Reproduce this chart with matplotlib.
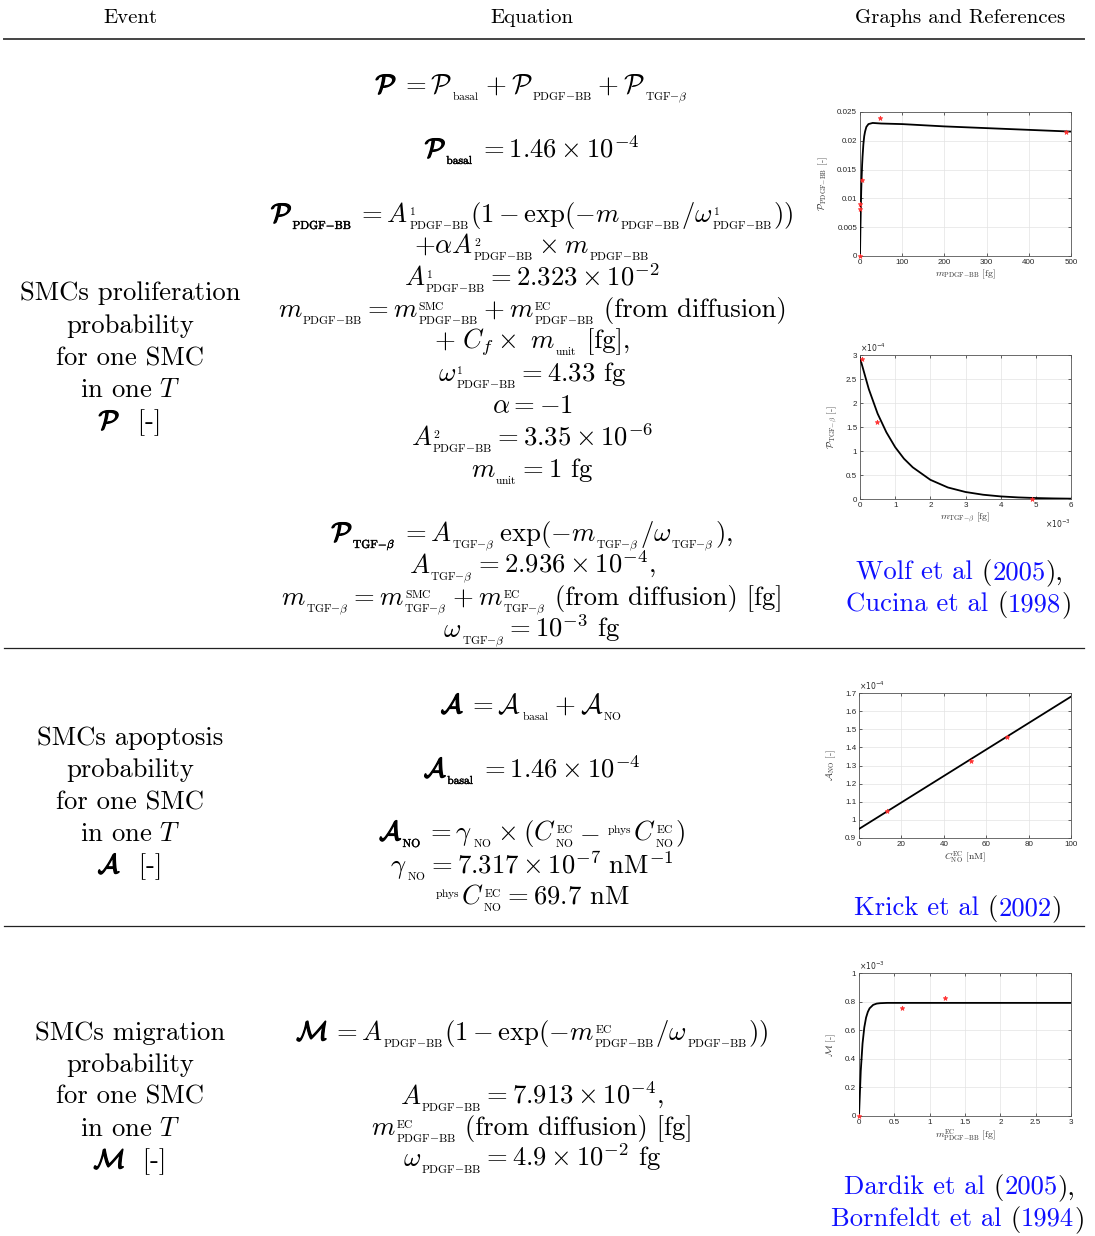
import re
import matplotlib
matplotlib.use("Agg")
import matplotlib.pyplot as plt
import matplotlib.patheffects as pe
from matplotlib.lines import Line2D
from matplotlib.ticker import FuncFormatter

plt.rcParams.update({
    "mathtext.fontset": "cm",
    "font.family": "serif",
    "font.serif": ["cmr10"],
    "axes.formatter.use_mathtext": True,
})

# ---------------- data ----------------
# Plot 1: P_PDGF-BB vs m_PDGF-BB
pdgf_curve_x = [0, 1, 2, 3, 4, 5, 6, 8, 10, 12, 15, 20, 25, 30, 50, 100, 200, 300, 400, 500]
pdgf_curve_y = [0, 0.0048, 0.0086, 0.0116, 0.0139, 0.0158, 0.0172, 0.0194, 0.0208, 0.0216,
                0.0224, 0.0229, 0.0230, 0.0231, 0.0230, 0.0229, 0.0225, 0.0222, 0.0219, 0.0216]
pdgf_pts_x = [0, 0, 0, 5, 48, 487]
pdgf_pts_y = [0, 0.0082, 0.0090, 0.0132, 0.0240, 0.0215]

# Plot 2: P_TGF-beta vs m_TGF-beta
tgf_curve_x = [0, 0.25e-3, 0.5e-3, 0.75e-3, 1e-3, 1.25e-3, 1.5e-3, 2e-3, 2.5e-3, 3e-3,
               3.5e-3, 4e-3, 4.5e-3, 5e-3, 5.5e-3, 6e-3]
tgf_curve_y = [2.94e-4, 2.29e-4, 1.78e-4, 1.39e-4, 1.08e-4, 0.84e-4, 0.66e-4, 0.40e-4,
               0.24e-4, 0.146e-4, 0.089e-4, 0.054e-4, 0.033e-4, 0.020e-4, 0.012e-4, 0.007e-4]
tgf_pts_x = [0.05e-3, 0.48e-3, 4.9e-3]
tgf_pts_y = [2.92e-4, 1.60e-4, 0.0]

# Plot 3: A_NO vs C_NO^EC
no_curve_x = [0, 100]
no_curve_y = [0.95e-4, 1.68e-4]
no_pts_x = [13, 53, 69.7]
no_pts_y = [1.05e-4, 1.325e-4, 1.46e-4]

# Plot 4: M vs m_PDGF-BB^EC
mig_curve_x = [0, 0.025, 0.05, 0.075, 0.1, 0.125, 0.15, 0.2, 0.25, 0.3, 0.4, 1.0, 2.0, 3.0]
mig_curve_y = [0, 0.316e-3, 0.506e-3, 0.620e-3, 0.688e-3, 0.728e-3, 0.753e-3, 0.777e-3,
               0.786e-3, 0.789e-3, 0.791e-3, 0.791e-3, 0.791e-3, 0.791e-3]
mig_pts_x = [0, 0.61, 1.22]
mig_pts_y = [0, 0.757e-3, 0.826e-3]

headers = ["Event", "Equation", "Graphs and References"]

# Markup: "_[..]" / "^[..]" are small (small-caps style) indices, "~" a small gap;
# chunks are (markup, style) with style 'b' (bold symbol), 'n' (normal) or 'blue'.
event_rows = [
    [[("SMCs proliferation", "n")], [("probability", "n")], [("for one SMC", "n")],
     [(r"in one $T$", "n")], [(r"$\mathcal{P}$", "b"), ("  [-]", "n")]],
    [[("SMCs apoptosis", "n")], [("probability", "n")], [("for one SMC", "n")],
     [(r"in one $T$", "n")], [(r"$\mathcal{A}$", "b"), ("  [-]", "n")]],
    [[("SMCs migration", "n")], [("probability", "n")], [("for one SMC", "n")],
     [(r"in one $T$", "n")], [(r"$\mathcal{M}$", "b"), ("  [-]", "n")]],
]

PB = "_[PDGF-BB]"
TG = r"[\mathrm{TGF{-}}\beta]"
T = "_" + TG

eq_row1 = [
    [(r"$\mathcal{P}$", "b"),
     (r"$\,=\mathcal{P}$_[basal]${}+\mathcal{P}$" + PB + r"${}+\mathcal{P}$" + T, "n")],
    [(r"$\mathcal{P}$_[basal]", "b"), (r"$\,= 1.46\times10^{-4}$", "n")],
    [(r"$\mathcal{P}$" + PB, "b"),
     (r"$\,= A$^[1]" + PB + r"$(1-\exp(-m$" + PB + r"$/\omega$^[1]" + PB + r"$))$", "n")],
    [(r"$+\alpha A$^[2]" + PB + r"${}\times m$" + PB, "n")],
    [(r"$A$^[1]" + PB + r"$= 2.323\times10^{-2}$", "n")],
    [(r"$m$" + PB + r"$= m$^[SMC]" + PB + r"${}+m$^[EC]" + PB + " (from diffusion)", "n")],
    [(r"$+\ C_f\times\ m$_[unit] [fg],", "n")],
    [(r"$\omega$^[1]" + PB + r"$= 4.33$ fg", "n")],
    [(r"$\alpha = -1$", "n")],
    [(r"$A$^[2]" + PB + r"$= 3.35\times10^{-6}$", "n")],
    [(r"$m$_[unit]$= 1$ fg", "n")],
    [(r"$\mathcal{P}$" + T, "b"),
     (r"$\,= A$" + T + r"$\,\exp(-m$" + T + r"$/\omega$" + T + r"$)$,", "n")],
    [(r"$A$" + T + r"$= 2.936\times10^{-4}$,", "n")],
    [(r"$m$" + T + r"$= m$^[SMC]" + T + r"${}+m$^[EC]" + T + " (from diffusion) [fg]", "n")],
    [(r"$\omega$" + T + r"$= 10^{-3}$ fg", "n")],
]
eq_row2 = [
    [(r"$\mathcal{A}$", "b"), (r"$\,= \mathcal{A}$_[basal]${}+\mathcal{A}$_[NO]", "n")],
    [(r"$\mathcal{A}$_[basal]", "b"), (r"$\,= 1.46\times10^{-4}$", "n")],
    [(r"$\mathcal{A}$_[NO]", "b"),
     (r"$\,= \gamma$_[NO]${}\times(C$^[EC]_[NO]${}-$~^[phys]$C$^[EC]_[NO]$)$", "n")],
    [(r"$\gamma$_[NO]$= 7.317\times10^{-7}\ \mathrm{nM}^{-1}$", "n")],
    [(r"^[phys]$C$^[EC]_[NO]$= 69.7$ nM", "n")],
]
eq_row3 = [
    [(r"$\mathcal{M}$", "b"),
     (r"$\,= A$" + PB + r"$(1-\exp(-m$^[EC]" + PB + r"$/\omega$" + PB + r"$))$", "n")],
    [(r"$A$" + PB + r"$= 7.913\times10^{-4}$,", "n")],
    [(r"$m$^[EC]" + PB + " (from diffusion) [fg]", "n")],
    [(r"$\omega$" + PB + r"$= 4.9\times10^{-2}$ fg", "n")],
]

references = [
    [("Wolf et al", "blue"), (" (", "n"), ("2005", "blue"), ("),", "n")],
    [("Cucina et al", "blue"), (" (", "n"), ("1998", "blue"), (")", "n")],
    [("Krick et al", "blue"), (" (", "n"), ("2002", "blue"), (")", "n")],
    [("Dardik et al", "blue"), (" (", "n"), ("2005", "blue"), ("),", "n")],
    [("Bornfeldt et al", "blue"), (" (", "n"), ("1994", "blue"), (")", "n")],
]

# ---------------- layout ----------------
W, H = 1095, 1236
fig = plt.figure(figsize=(W / 100, H / 100), dpi=100)
renderer = fig.canvas.get_renderer()


def fx(x):
    return x / W


def fy(y):
    return 1 - y / H


BODY = 19.2
SCRIPT = 8.3
SUB_DY = 7.0   # px below baseline
SUP_DY = -7.0  # px above baseline
GAP = 6.0
BLUE = "#1010ff"
BOLD = [pe.withStroke(linewidth=0.9, foreground="k")]
BOLD_SMALL = [pe.withStroke(linewidth=0.3, foreground="k")]
SCRIPT_RE = re.compile(r"((?:[_^]\[[^\]]*\])+)")


def script_math(c):
    if "\\" in c:
        return "$" + c + "$"
    return r"$\mathrm{%s}$" % c.replace("-", "{-}")


def _mk(s, size, color, effects):
    t = fig.text(0, 0, s, color=color, ha="left", va="baseline", fontsize=size)
    if effects:
        t.set_path_effects(effects)
    return t, t.get_window_extent(renderer).width


def put_line(chunks, cx, baseline, fs=BODY):
    placed = []
    x = 0.0
    for markup, style in chunks:
        color = BLUE if style == "blue" else "k"
        eff = BOLD if style == "b" else None
        eff_s = BOLD_SMALL if style == "b" else None
        for i, part in enumerate(SCRIPT_RE.split(markup)):
            if i % 2 == 0:
                for j, seg in enumerate(part.split("~")):
                    if j > 0:
                        x += GAP
                    if seg:
                        t, w = _mk(seg, fs, color, eff)
                        placed.append((t, x, 0.0))
                        x += w
            else:
                widths = []
                sup = re.search(r"\^\[([^\]]*)\]", part)
                sub = re.search(r"_\[([^\]]*)\]", part)
                if sup:
                    t, w = _mk(script_math(sup.group(1)), SCRIPT, color, eff_s)
                    placed.append((t, x + 0.5, SUP_DY))
                    widths.append(w + 0.5)
                if sub:
                    t, w = _mk(script_math(sub.group(1)), SCRIPT, color, eff_s)
                    placed.append((t, x, SUB_DY))
                    widths.append(w)
                x += max(widths) + 1.0
    x0 = cx - x / 2
    for t, dx, dy in placed:
        t.set_position((fx(x0 + dx), fy(baseline + dy)))


# header
for txt, cx in zip(headers, [130, 532, 960]):
    fig.text(fx(cx), fy(23), txt, ha="center", va="baseline", fontsize=15)

# rules
fig.add_artist(Line2D([fx(4), fx(1084)], [fy(39), fy(39)], color="#444444", lw=1.4))
for yy in [648, 926]:
    fig.add_artist(Line2D([fx(4), fx(1084)], [fy(yy), fy(yy)], color="#222222", lw=0.9))

# event column
event_baselines = [[300, 333, 365, 397, 429], [745, 777, 809, 841, 873], [1040, 1072, 1104, 1136, 1168]]
for lines, bls in zip(event_rows, event_baselines):
    for chunks, b in zip(lines, bls):
        put_line(chunks, 130, b)

# equations
eq1_bl = [93, 157, 222, 253, 285, 317, 348, 381, 413, 445, 477, 541, 573, 605, 637]
eq2_bl = [713, 777, 840, 873, 904]
eq3_bl = [1040, 1104, 1135, 1166]
for eqs, bls in [(eq_row1, eq1_bl), (eq_row2, eq2_bl), (eq_row3, eq3_bl)]:
    for chunks, b in zip(eqs, bls):
        put_line(chunks, 532, b)

# references (multi-coloured)
ref_pos = [(960, 579), (959, 611), (958, 915), (960, 1194), (958, 1226)]
for chunks, (cx, b) in zip(references, ref_pos):
    put_line(chunks, cx, b)


def fmt_scaled(scale):
    def f(v, pos):
        return "%g" % round(v / scale, 6)
    return FuncFormatter(f)


def small_plot(box, cx, cy, px, py, xlim, ylim, xticks, yticks, xlabel, ylabel,
               xscale=1.0, yscale=1.0, xexp=None, yexp=None):
    l, t, r, b = box
    ax = fig.add_axes([fx(l), fy(b), (r - l) / W, (b - t) / H])
    ax.plot(cx, cy, color="k", lw=1.3, zorder=3)
    ax.plot(px, py, ls="none", marker="*", color="#ff3030", ms=3.5, mew=0.5, zorder=4,
            clip_on=False)
    ax.set_xlim(*xlim)
    ax.set_ylim(*ylim)
    ax.set_xticks(xticks)
    ax.set_yticks(yticks)
    ax.xaxis.set_major_formatter(fmt_scaled(xscale))
    ax.yaxis.set_major_formatter(fmt_scaled(yscale))
    ax.grid(True, color="#e3e3e3", lw=0.5)
    ax.set_axisbelow(True)
    ax.tick_params(direction="in", length=2, width=0.5, labelsize=5.8, colors="#262626",
                   labelfontfamily="Liberation Sans", pad=2, top=True, right=True)
    for sp in ax.spines.values():
        sp.set_color("#555555")
        sp.set_linewidth(0.6)
    ax.set_xlabel(xlabel, fontsize=7, color="#333333", labelpad=1)
    ax.set_ylabel(ylabel, fontsize=7, color="#333333", labelpad=5)
    if yexp:
        ax.text(0.0, 1.01, yexp, transform=ax.transAxes, fontsize=5.5, color="#262626",
                ha="left", va="bottom", math_fontfamily="dejavusans")
    if xexp:
        ax.text(1.0, -0.13, xexp, transform=ax.transAxes, fontsize=5.5, color="#262626",
                ha="right", va="top", math_fontfamily="dejavusans")
    return ax


LPB = r"{\rm PDGF{-}BB}"
LTB = r"{\rm TGF{-}}\beta"

small_plot((860, 112, 1071, 256), pdgf_curve_x, pdgf_curve_y, pdgf_pts_x, pdgf_pts_y,
           (0, 500), (0, 0.025), [0, 100, 200, 300, 400, 500],
           [0, 0.005, 0.01, 0.015, 0.02, 0.025],
           r"$m_{%s}$ [fg]" % LPB, r"$\mathcal{P}_{%s}$ [-]" % LPB)

small_plot((860, 355, 1071, 499), tgf_curve_x, tgf_curve_y, tgf_pts_x, tgf_pts_y,
           (0, 6e-3), (0, 3e-4), [i * 1e-3 for i in range(7)],
           [i * 0.5e-4 for i in range(7)],
           r"$m_{%s}$ [fg]" % LTB, r"$\mathcal{P}_{%s}$ [-]" % LTB,
           xscale=1e-3, yscale=1e-4, xexp=r"$\times10^{-3}$", yexp=r"$\times10^{-4}$")

small_plot((859, 693, 1071, 838), no_curve_x, no_curve_y, no_pts_x, no_pts_y,
           (0, 100), (0.9e-4, 1.7e-4), [0, 20, 40, 60, 80, 100],
           [(9 + i) * 1e-5 for i in range(9)],
           r"$C^{\rm EC}_{\rm NO}$ [nM]", r"$\mathcal{A}_{\rm NO}$ [-]",
           yscale=1e-4, yexp=r"$\times10^{-4}$")

small_plot((859, 973, 1071, 1116), mig_curve_x, mig_curve_y, mig_pts_x, mig_pts_y,
           (0, 3), (0, 1e-3), [0, 0.5, 1, 1.5, 2, 2.5, 3],
           [i * 0.2e-3 for i in range(6)],
           r"$m^{\rm EC}_{%s}$ [fg]" % LPB, r"$\mathcal{M}$ [-]",
           yscale=1e-3, yexp=r"$\times10^{-3}$")

fig.savefig("out.png", dpi=100)
